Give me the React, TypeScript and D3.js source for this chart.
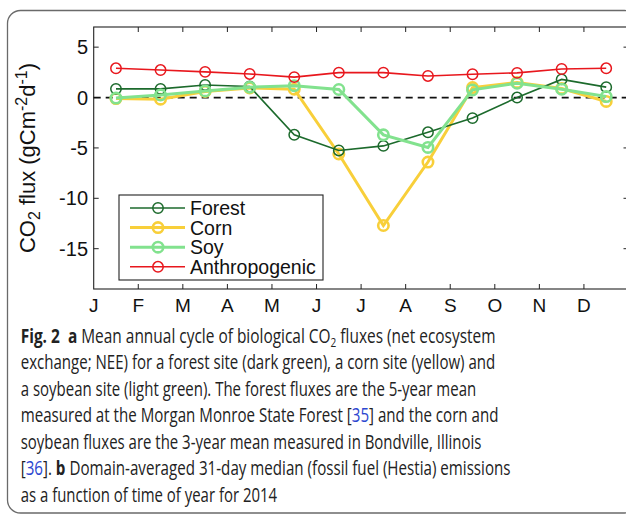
import React, { useLayoutEffect, useRef, useState } from "react";
import * as d3 from "d3";

const months = ["J", "F", "M", "A", "M", "J", "J", "A", "S", "O", "N", "D"];
const yTicks = [5, 0, -5, -10, -15];

const forest = [0.86, 0.86, 1.25, 1.09, -3.7, -5.25, -4.8, -3.45, -2.04, 0.0, 1.8, 1.03];
const corn = [-0.1, -0.16, 0.6, 0.95, 0.83, -5.6, -12.7, -6.4, 0.99, 1.5, 0.9, -0.39];
const soy = [-0.05, 0.25, 0.66, 1.03, 1.18, 0.8, -3.7, -4.95, 0.76, 1.42, 0.83, 0.1];
const anthro = [2.9, 2.73, 2.55, 2.34, 2.03, 2.47, 2.47, 2.14, 2.31, 2.45, 2.83, 2.9];

const seriesNames = ["Forest", "Corn", "Soy", "Anthropogenic"];
const seriesColors = ["#1c6a2c", "#f8cf3a", "#82e28e", "#e8171d"];
const seriesWidths = [1.6, 3, 3, 1.6];

const W = 626;
const H = 515;
const plotLeft = 93.7;
const plotRight = 628.5;
const plotTop = 27;
const plotBottom = 289;

function FitLine({ x, y, width, children }: { x: number; y: number; width: number; children: React.ReactNode }) {
  const ref = useRef<SVGTextElement>(null);
  const [sx, setSx] = useState(1);
  useLayoutEffect(() => {
    if (ref.current) {
      const w = ref.current.getBBox().width;
      if (w > 0) setSx(width / w);
    }
  }, [width]);
  return (
    <g transform={`translate(${x},${y}) scale(${sx},1)`}>
      <text ref={ref} x={0} y={0}>
        {children}
      </text>
    </g>
  );
}

export default function App() {
  const x = d3.scaleLinear().domain([0, 12]).range([plotLeft, plotRight]);
  const y = d3.scaleLinear().domain([-19, 7]).range([plotBottom, plotTop]);
  const line = d3
    .line<number>()
    .x((_, i) => x(i + 0.5))
    .y((d) => y(d));

  const data = [forest, corn, soy, anthro];
  const drawOrder = [1, 0, 2, 3];
  const tickLen = 5;
  const xTickVals = d3.range(1, 12);

  const legX = 119;
  const legY = 195;
  const legW = 204;
  const legH = 85;
  const rowY = (i: number) => 208 + i * 19.6;

  const captionX = 20.7;
  const capBase = (i: number) => 342.5 + i * 26.5;
  const blue = "#2d47d0";

  return (
    <svg
      width={W}
      height={H}
      style={{ position: "absolute", left: 0, top: 0, background: "#fff" }}
    >
      <rect x={7.5} y={10.5} width={630} height={502.5} rx={13} fill="#fff" stroke="#6a6a6a" strokeWidth={1.3} />

      {/* plot box */}
      <rect x={plotLeft} y={plotTop} width={plotRight - plotLeft} height={plotBottom - plotTop} fill="#fff" stroke="#222" strokeWidth={1.1} />

      {/* x ticks */}
      {xTickVals.map((v) => (
        <g key={"xt" + v}>
          <line x1={x(v)} x2={x(v)} y1={plotBottom} y2={plotBottom - tickLen} stroke="#222" strokeWidth={1} />
          <line x1={x(v)} x2={x(v)} y1={plotTop} y2={plotTop + tickLen} stroke="#222" strokeWidth={1} />
        </g>
      ))}
      {/* y ticks */}
      {yTicks.map((v) => (
        <g key={"yt" + v}>
          <line x1={plotLeft} x2={plotLeft + tickLen} y1={y(v)} y2={y(v)} stroke="#222" strokeWidth={1} />
          <line x1={plotRight} x2={plotRight - tickLen} y1={y(v)} y2={y(v)} stroke="#222" strokeWidth={1} />
          <text x={88} y={y(v) + 7} textAnchor="end" fontFamily="Liberation Sans, Arial, sans-serif" fontSize={20} fill="#111">
            {v}
          </text>
        </g>
      ))}
      {months.map((m, i) => (
        <text key={"m" + i} x={x(i)} y={312} textAnchor="middle" fontFamily="Liberation Sans, Arial, sans-serif" fontSize={19} fill="#111">
          {m}
        </text>
      ))}

      {/* zero line */}
      <line x1={plotLeft} x2={plotRight} y1={y(0)} y2={y(0)} stroke="#111" strokeWidth={1.8} strokeDasharray="7,5" />

      {/* series */}
      {drawOrder.map((k) => (
        <g key={"s" + k}>
          <path d={line(data[k]) || ""} fill="none" stroke={seriesColors[k]} strokeWidth={seriesWidths[k]} />
          {data[k].map((v, i) => (
            <circle key={i} cx={x(i + 0.5)} cy={y(v)} r={5.2} fill="none" stroke={seriesColors[k]} strokeWidth={seriesWidths[k] === 3 ? 2.6 : 1.5} />
          ))}
        </g>
      ))}

      {/* legend */}
      <rect x={legX} y={legY} width={legW} height={legH} fill="#fff" stroke="#222" strokeWidth={1.1} />
      {seriesNames.map((n, i) => (
        <g key={"l" + i}>
          <line x1={130} x2={185} y1={rowY(i)} y2={rowY(i)} stroke={seriesColors[i]} strokeWidth={seriesWidths[i]} />
          <circle cx={158} cy={rowY(i)} r={5.2} fill="none" stroke={seriesColors[i]} strokeWidth={seriesWidths[i] === 3 ? 2.6 : 1.5} />
          <text x={190} y={rowY(i) + 7} fontFamily="Liberation Sans, Arial, sans-serif" fontSize={19.5} fill="#111">
            {n}
          </text>
        </g>
      ))}

      {/* y axis title */}
      <text
        transform="translate(35,158) rotate(-90)"
        textAnchor="middle"
        fontFamily="Liberation Sans, Arial, sans-serif"
        fontSize={22}
        fill="#111"
      >
        CO<tspan fontSize={16} dy={5}>2</tspan>
        <tspan dy={-5}> flux (gCm</tspan>
        <tspan fontSize={16} dy={-8}>-2</tspan>
        <tspan dy={8}>d</tspan>
        <tspan fontSize={16} dy={-8}>-1</tspan>
        <tspan dy={8}>)</tspan>
      </text>

      {/* caption */}
      <g fontFamily="Open Sans, Noto Sans, sans-serif" fontSize={20} fill="#222">
        <FitLine x={captionX} y={capBase(0)} width={475}>
          <tspan fontWeight="bold">Fig. 2</tspan>
          <tspan>{"\u00a0\u00a0"}</tspan>
          <tspan fontWeight="bold">a</tspan>
          <tspan> Mean annual cycle of biological CO</tspan>
          <tspan fontSize={13} dy={4}>2</tspan>
          <tspan dy={-4}> fluxes (net ecosystem</tspan>
        </FitLine>
        <FitLine x={captionX} y={capBase(1)} width={475}>
          exchange; NEE) for a forest site (dark green), a corn site (yellow) and
        </FitLine>
        <FitLine x={captionX} y={capBase(2)} width={456}>
          a soybean site (light green). The forest fluxes are the 5-year mean
        </FitLine>
        <FitLine x={captionX} y={capBase(3)} width={478}>
          measured at the Morgan Monroe State Forest [<tspan fill={blue}>35</tspan>] and the corn and
        </FitLine>
        <FitLine x={captionX} y={capBase(4)} width={461}>
          soybean fluxes are the 3-year mean measured in Bondville, Illinois
        </FitLine>
        <FitLine x={captionX} y={capBase(5)} width={490}>
          [<tspan fill={blue}>36</tspan>]. <tspan fontWeight="bold">b</tspan> Domain-averaged 31-day median (fossil fuel (Hestia) emissions
        </FitLine>
        <FitLine x={captionX} y={capBase(6)} width={257}>
          as a function of time of year for 2014
        </FitLine>
      </g>
    </svg>
  );
}
